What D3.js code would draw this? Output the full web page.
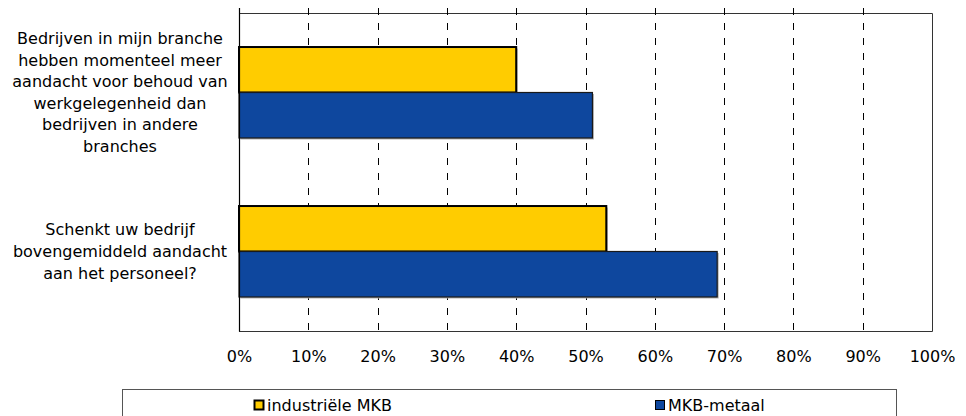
<!DOCTYPE html>
<html>
<head>
<meta charset="utf-8">
<script src="https://cdn.jsdelivr.net/npm/d3@7"></script>
<style>
  html, body { margin: 0; padding: 0; background: #fff; }
  svg { display: block; }
  text { font-family: "DejaVu Sans", Verdana, sans-serif; fill: #000; }
</style>
</head>
<body>
<svg id="chart" width="966" height="416"></svg>
<script>
// ---- data ----
const categories = [
  "Bedrijven in mijn branche\nhebben momenteel meer\naandacht voor behoud van\nwerkgelegenheid dan\nbedrijven in andere\nbranches",
  "Schenkt uw bedrijf\nbovengemiddeld aandacht\naan het personeel?"
];
const seriesNames = ["industriële MKB", "MKB-metaal"];
const industrieleMKB = [0.40, 0.53];
const mkbMetaal = [0.51, 0.69];
const tickValues = [0, 0.1, 0.2, 0.3, 0.4, 0.5, 0.6, 0.7, 0.8, 0.9, 1.0];
const tickLabels = ["0%", "10%", "20%", "30%", "40%", "50%", "60%", "70%", "80%", "90%", "100%"];
const colors = ["#FFCC00", "#0E479E"];
const strokes = ["#000000", "#1a1a1a"];

// ---- layout ----
const svg = d3.select("#chart");
const pLeft = 239, pRight = 932, pTop = 13, pBottom = 331;
const fontSize = "16px";

const x = d3.scaleLinear().domain([0, 1]).range([pLeft, pRight]);
const y = d3.scaleBand().domain(categories).range([pTop, pBottom])
  .paddingInner(0.428).paddingOuter(0.214);
const ySub = d3.scaleBand().domain(seriesNames).range([0, y.bandwidth()]);

const series = seriesNames.map((name, i) => ({
  name, color: colors[i], stroke: strokes[i],
  values: (i === 0 ? industrieleMKB : mkbMetaal)
}));

// frame (top, right, bottom)
svg.append("path")
  .attr("d", `M${pLeft},${pTop + 0.5}H${pRight + 0.5}V${pBottom + 0.5}H${pLeft}`)
  .attr("fill", "none").attr("stroke", "#333").attr("stroke-width", 1);

// dashed gridlines
svg.append("g").selectAll("line")
  .data(tickValues.filter(v => v > 0 && v < 1))
  .join("line")
  .attr("x1", d => Math.round(x(d)) + 0.5)
  .attr("x2", d => Math.round(x(d)) + 0.5)
  .attr("y1", pTop - 5).attr("y2", pBottom)
  .attr("stroke", "#000").attr("stroke-width", 1)
  .attr("stroke-dasharray", "7,8");

// bars
series.forEach((s, si) => {
  const g = svg.append("g");
  g.selectAll("rect.sh").data(s.values).join("rect")
    .attr("class", "sh")
    .attr("x", x(0) + 1.5)
    .attr("y", (d, i) => y(categories[i]) + ySub(s.name) + 1.5)
    .attr("width", d => x(d) - x(0))
    .attr("height", ySub.bandwidth())
    .attr("fill", "#b0b0b0");
  g.selectAll("rect.bar").data(s.values).join("rect")
    .attr("class", "bar")
    .attr("x", x(0))
    .attr("y", (d, i) => y(categories[i]) + ySub(s.name))
    .attr("width", d => x(d) - x(0))
    .attr("height", ySub.bandwidth())
    .attr("fill", s.color)
    .attr("stroke", s.stroke)
    .attr("stroke-width", si === 0 ? 2 : 1.2);
});

// left axis line
svg.append("line")
  .attr("x1", pLeft + 0.5).attr("x2", pLeft + 0.5)
  .attr("y1", pTop - 5).attr("y2", pBottom + 0.5)
  .attr("stroke", "#000").attr("stroke-width", 1.2);

// x tick labels
const xAxis = d3.axisBottom(x).tickValues(tickValues)
  .tickFormat((d, i) => tickLabels[i]).tickSize(0).tickPadding(0);
const gx = svg.append("g").attr("transform", `translate(0,${pBottom})`).call(xAxis);
gx.select(".domain").remove();
gx.selectAll("text")
  .attr("dy", null).attr("y", 31)
  .style("font-family", '"DejaVu Sans", Verdana, sans-serif')
  .style("font-size", fontSize).attr("fill", "#000");

// category labels
const lineH = 21.6;
categories.forEach(c => {
  const lines = c.split("\n");
  const cy = y(c) + y.bandwidth() / 2;
  const t = svg.append("text")
    .attr("text-anchor", "middle")
    .style("font-size", fontSize);
  lines.forEach((ln, i) => {
    t.append("tspan")
      .attr("x", 120)
      .attr("y", cy + (i - (lines.length - 1) / 2) * lineH + 5.5)
      .text(ln);
  });
});

// legend
const lg = svg.append("g");
lg.append("rect")
  .attr("x", 122.5).attr("y", 389.5).attr("width", 774).attr("height", 40)
  .attr("fill", "#fff").attr("stroke", "#555").attr("stroke-width", 1);
const legendX = [254, 655];
series.forEach((s, i) => {
  lg.append("rect")
    .attr("x", legendX[i] + 0.5).attr("y", 400.5)
    .attr("width", 9).attr("height", 9)
    .attr("fill", s.color).attr("stroke", "#000")
    .attr("stroke-width", i === 0 ? 2 : 1);
  lg.append("text")
    .attr("x", legendX[i] + 13).attr("y", 411)
    .style("font-size", fontSize)
    .text(s.name);
});
</script>
</body>
</html>
